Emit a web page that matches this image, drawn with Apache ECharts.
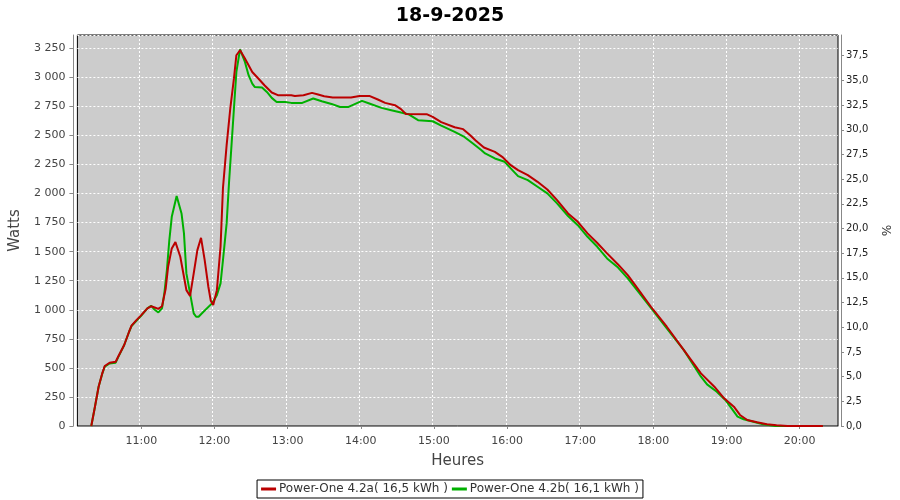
<!DOCTYPE html>
<html>
<head>
<meta charset="utf-8">
<script src="https://cdn.jsdelivr.net/npm/echarts@6/dist/echarts.min.js"></script>
<style>html,body{margin:0;padding:0;background:#fff;}#c{width:900px;height:500px;}</style>
</head>
<body>
<div id="c"></div>
<script>
var titleText = '18-9-2025';
var seriesNames = ['Power-One 4.2a( 16,5 kWh )', 'Power-One 4.2b( 16,1 kWh )'];

var timesA = ['10:19','10:22','10:25','10:28','10:30','10:34','10:39','10:41','10:46','10:50','10:52','10:56','11:00','11:05','11:08','11:11','11:14','11:17','11:20','11:22','11:25','11:28','11:32','11:35','11:37','11:40','11:43','11:46','11:49','11:52','11:55','11:57','11:59','12:02','12:05','12:07','12:10','12:13','12:16','12:18','12:21','12:25','12:31','12:36','12:41','12:47','12:52','12:55','13:03','13:06','13:13','13:20','13:25','13:30','13:37','13:52','13:59','14:07','14:14','14:20','14:28','14:33','14:37','14:54','14:59','15:06','15:17','15:24','15:30','15:34','15:41','15:50','15:56','16:03','16:09','16:17','16:25','16:33','16:41','16:50','16:58','17:06','17:14','17:22','17:31','17:39','17:44','17:58','18:11','18:25','18:39','18:50','18:58','19:06','19:11','19:17','19:25','19:33','19:41','19:50','20:19'];
var wattsA = [0,166,338,453,516,544,553,596,697,811,863,911,954,1012,1030,1020,1008,1030,1180,1370,1528,1582,1456,1284,1169,1118,1313,1513,1619,1427,1198,1077,1040,1169,1542,2050,2416,2732,2990,3190,3233,3161,3046,2990,2932,2869,2846,2846,2846,2840,2846,2866,2852,2837,2826,2826,2840,2840,2809,2780,2760,2726,2685,2683,2659,2615,2570,2554,2500,2459,2396,2358,2316,2244,2201,2158,2101,2035,1943,1829,1757,1657,1574,1485,1390,1298,1227,1026,854,653,453,338,238,166,95,52,32,15,6,0,0];

var timesB = ['10:19','10:22','10:25','10:28','10:30','10:34','10:39','10:41','10:46','10:50','10:52','10:56','11:00','11:05','11:08','11:11','11:14','11:17','11:19','11:21','11:23','11:25','11:29','11:33','11:35','11:37','11:40','11:43','11:45','11:47','11:51','11:58','12:02','12:05','12:07','12:10','12:12','12:14','12:16','12:18','12:21','12:25','12:28','12:31','12:33','12:39','12:43','12:47','12:51','12:58','13:03','13:12','13:21','13:28','13:36','13:43','13:50','14:01','14:07','14:17','14:25','14:33','14:39','14:47','14:59','15:06','15:17','15:25','15:32','15:39','15:42','15:50','15:58','16:03','16:09','16:17','16:25','16:33','16:41','16:50','16:58','17:06','17:14','17:22','17:31','17:39','17:44','17:58','18:11','18:25','18:39','18:44','18:52','18:59','19:05','19:09','19:14','19:22','19:30','19:40','20:19'];
var wattsB = [0,166,338,450,510,538,545,590,697,811,860,905,950,1012,1035,1000,977,1012,1150,1341,1600,1800,1978,1829,1657,1313,1141,969,940,940,983,1055,1126,1227,1427,1743,2101,2416,2732,3046,3241,3132,3018,2946,2917,2912,2874,2823,2788,2788,2780,2780,2818,2794,2771,2745,2745,2797,2775,2737,2717,2697,2683,2631,2622,2585,2530,2487,2431,2373,2345,2302,2273,2216,2150,2115,2058,2001,1915,1806,1728,1628,1542,1442,1363,1270,1204,1017,840,653,424,358,295,224,138,80,58,37,15,0,0];

var hourTicks = ['11:00','12:00','13:00','14:00','15:00','16:00','17:00','18:00','19:00','20:00'];

var X_MIN = 607.6, X_MAX = 1231.4, Y_MAX = 3364;
var GL = 75, GR = 62, GT = 35, GB = 74, W = 900;

function toMin(s){ var p = s.split(':'); return (+p[0])*60 + (+p[1]); }
function pairs(ts, vs){ return ts.map(function(t,i){ return [toMin(t), vs[i]]; }); }
function fmtThousands(v){ var s = String(Math.round(v)); return s.replace(/\B(?=(\d{3})+(?!\d))/g, ' '); }
function fmtHM(v){ var h = Math.floor(v/60), m = Math.round(v - h*60); return (h<10?'0':'')+h+':'+(m<10?'0':'')+m; }
var hourVals = hourTicks.map(toMin);

// helper grid (no marks) whose hour-aligned axis draws the vertical dashed grid lines;
// it extends the main time scale to whole hours (10:00 .. 21:00) on both sides
var G_MIN = 600, G_MAX = 1260;
var pxPerMin = (W - GL - GR) / (X_MAX - X_MIN);
var grid2Left = GL - (X_MIN - G_MIN) * pxPerMin;
var grid2Right = GR - (G_MAX - X_MAX) * pxPerMin;

var FONT = 'DejaVu Sans';
var chart = echarts.init(document.getElementById('c'), null, {renderer:'canvas'});
chart.setOption({
  animation: false,
  backgroundColor: '#ffffff',
  textStyle: {fontFamily: FONT},
  title: {text: titleText, left: 'center', top: 2, textStyle: {fontFamily: FONT, fontSize: 19, fontWeight: 'bold', color: '#000'}},
  grid: [
    {left: GL, right: GR, top: GT, bottom: GB, show: true, backgroundColor: '#cccccc', borderColor: '#000', borderWidth: 1, containLabel: false},
    {left: grid2Left, right: grid2Right, top: GT, bottom: GB, show: false, containLabel: false}
  ],
  legend: {
    data: [seriesNames[0], seriesNames[1]],
    bottom: 2, left: 'center', orient: 'horizontal',
    borderColor: '#000', borderWidth: 1, padding: [3, 4, 3, 4], itemGap: 4,
    icon: 'rect', itemWidth: 15, itemHeight: 3,
    textStyle: {fontFamily: FONT, fontSize: 12, color: '#333', padding: [0,0,0,-2]}
  },
  xAxis: [{
    gridIndex: 0, type: 'value', min: X_MIN, max: X_MAX,
    name: 'Heures', nameLocation: 'middle', nameGap: 24,
    nameTextStyle: {fontFamily: FONT, fontSize: 15, color: '#444'},
    offset: 4,
    axisLine: {show: true, lineStyle: {color: '#888', width: 1}},
    axisTick: {show: true, length: 3, lineStyle: {color: '#888'}, customValues: hourVals},
    axisLabel: {fontFamily: FONT, fontSize: 11, color: '#444', margin: 6, customValues: hourVals, formatter: function(v){ return fmtHM(v); }},
    splitLine: {show: false}
  }, {
    gridIndex: 1, type: 'value', min: G_MIN, max: G_MAX, interval: 60,
    axisLine: {show: false}, axisTick: {show: false}, axisLabel: {show: false},
    splitLine: {show: true, lineStyle: {color: '#ffffff', type: [2,2], width: 1}}
  }],
  yAxis: [{
    gridIndex: 0, type: 'value', min: 0, max: Y_MAX, interval: 250,
    name: 'Watts', nameLocation: 'middle', nameGap: 36,
    nameTextStyle: {fontFamily: FONT, fontSize: 15, color: '#444'},
    offset: 4,
    axisLine: {show: true, lineStyle: {color: '#888', width: 1}},
    axisTick: {show: true, length: 4, lineStyle: {color: '#888'}},
    axisLabel: {fontFamily: FONT, fontSize: 11, color: '#444', margin: 8, showMaxLabel: false, formatter: function(v){ return (v % 250 === 0) ? fmtThousands(v) : ''; }},
    splitLine: {show: true, lineStyle: {color: '#ffffff', type: [2,2], width: 1}}
  }, {
    gridIndex: 0, type: 'value', min: 0, max: 39.6, interval: 2.5, position: 'right',
    name: '%', nameLocation: 'middle', nameGap: 30, nameRotate: -90,
    nameTextStyle: {fontFamily: FONT, fontSize: 12, color: '#333'},
    offset: 3,
    axisLine: {show: true, lineStyle: {color: '#888', width: 1}},
    axisTick: {show: true, length: 3, lineStyle: {color: '#888'}},
    axisLabel: {fontFamily: FONT, fontSize: 10, color: '#222', margin: 5, showMaxLabel: false, formatter: function(v){ return v.toFixed(1).replace('.', ','); }},
    splitLine: {show: false}
  }, {
    gridIndex: 1, type: 'value', min: 0, max: Y_MAX, show: false,
    splitLine: {show: false}
  }],
  series: [{
    name: seriesNames[1], type: 'line', xAxisIndex: 0, yAxisIndex: 0, data: pairs(timesB, wattsB), showSymbol: false, symbol: 'none',
    lineStyle: {color: '#00b000', width: 2}, itemStyle: {color: '#00b000'}, z: 2
  }, {
    name: seriesNames[0], type: 'line', xAxisIndex: 0, yAxisIndex: 0, data: pairs(timesA, wattsA), showSymbol: false, symbol: 'none',
    lineStyle: {color: '#bb0000', width: 2}, itemStyle: {color: '#bb0000'}, z: 3
  }]
});
</script>
</body>
</html>
